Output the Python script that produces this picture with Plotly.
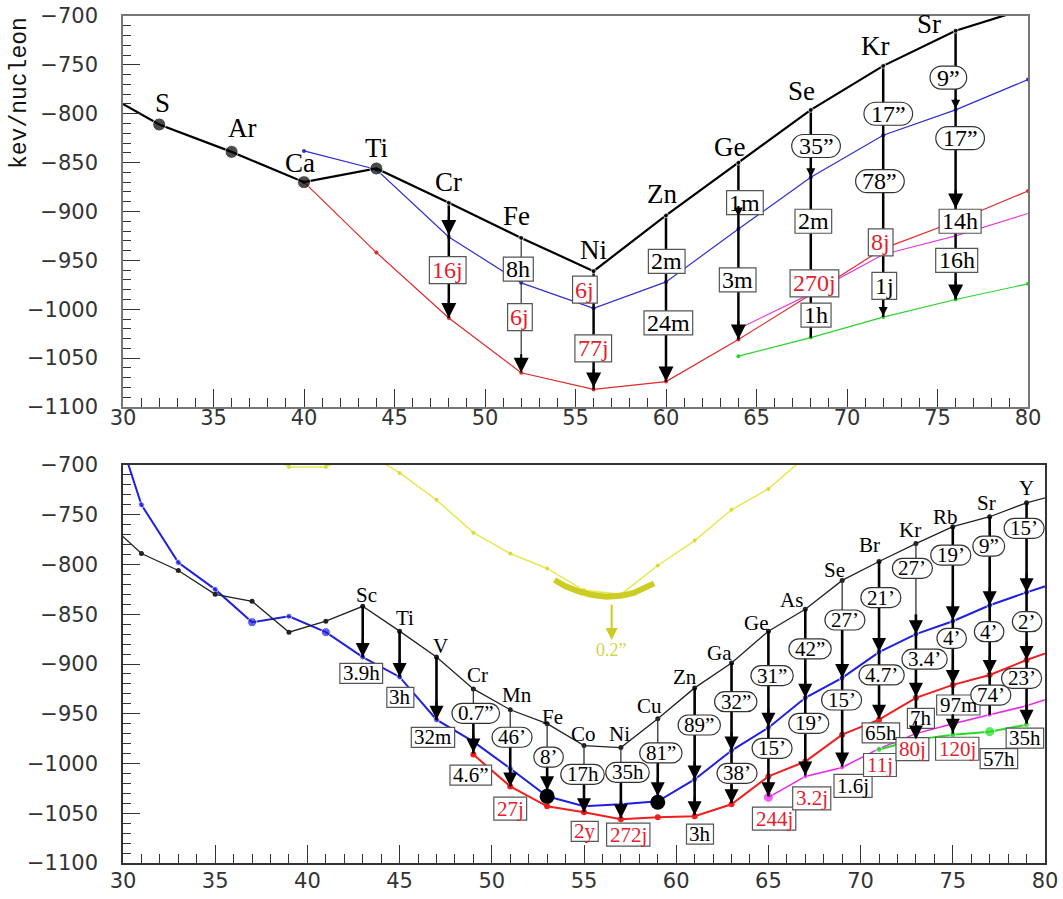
import plotly.graph_objects as go

# ---------------- TOP PANEL DATA ----------------
TOP_BLACK_X = [28, 32, 36, 40, 44, 48, 52, 56, 60, 64, 68, 72, 76, 80]
TOP_BLACK_Y = [-769, -811, -839, -870, -856, -891, -927, -961, -904, -850, -796, -751, -715, -692]
TOP_BIG_X = [32, 36, 40, 44]
TOP_BLUE_X = [40, 44, 48, 52, 56, 60, 64, 68, 72, 76, 80]
TOP_BLUE_Y = [-838, -857, -926, -973, -999, -972, -918, -865, -822, -796, -765]
TOP_RED_X = [40, 44, 48, 52, 56, 60, 64, 68, 72, 76, 80]
TOP_RED_Y = [-870, -942, -1009, -1065, -1082, -1074, -1031, -985, -938, -910, -879]
TOP_MAG_X = [64, 68, 72, 76, 80]
TOP_MAG_Y = [-1020, -984, -944, -925, -902]
TOP_GREEN_X = [64, 68, 72, 76, 80]
TOP_GREEN_Y = [-1048, -1029, -1008, -990, -974]

TOP_ELEMENTS = ["S", "Ar", "Ca", "Ti", "Cr", "Fe", "Ni", "Zn", "Ge", "Se", "Kr", "Sr"]
TOP_ELEM_X = [32.2, 36.6, 39.8, 44.0, 48.0, 51.75, 56.0, 59.8, 63.5, 67.5, 71.55, 74.55]
TOP_ELEM_Y = [-789, -815, -850, -835, -870, -905, -939, -882, -834, -777, -731, -708]

TOP_CHAIN_X = [48, 52, 56, 60, 64, 68, 72, 76]
TOP_CHAIN_TOP = [-891, -927, -961, -904, -850, -796, -751, -715]
TOP_CHAIN_END = [-1009, -1065, -1082, -1074, -1031, -1029, -1008, -990]
TOP_CHAIN_THIN_X = [52]

TOP_HEAD_X = [48, 48, 52, 56, 60, 64, 64, 68, 72, 76, 76, 76]
TOP_HEAD_Y = [-924, -1009, -1065, -1080, -1074, -905, -1031, -865, -1007, -795, -897, -990]
TOP_HEAD_BIG = [True, True, True, True, True, False, True, False, False, False, True, True]

TOP_LAB_TEXT = ["16j", "8h", "6j", "6j", "77j", "2m", "24m", "1m", "3m", "35”", "2m", "270j", "1h",
                "17”", "78”", "8j", "1j", "9”", "17”", "14h", "16h"]
TOP_LAB_X = [47.94, 51.84, 51.93, 55.52, 55.98, 60.04, 60.13, 64.36, 63.96, 68.29, 68.14, 68.2, 68.29,
             72.28, 71.82, 71.86, 72.06, 75.6, 76.25, 76.25, 76.06]
TOP_LAB_Y = [-960, -959, -1008, -980, -1040, -951, -1014, -891, -970, -833, -910, -973.5, -1006,
             -800, -869, -931.5, -976, -763, -825, -910, -950]
TOP_LAB_KIND = ["box", "box", "box", "box", "box", "box", "box", "box", "box", "round", "box", "box", "box",
                "round", "round", "box", "box", "round", "round", "box", "box"]
TOP_LAB_RED = [True, False, True, True, True, False, False, False, False, False, False, True, False,
               False, False, True, False, False, False, False, False]

# ---------------- BOTTOM PANEL DATA ----------------
BOT_X = [29, 31, 33, 35, 37, 39, 41, 43, 45, 47, 49, 51, 53, 55, 57, 59, 61, 63, 65, 67, 69, 71, 73, 75, 77, 79, 81]
BOT_BLACK_Y = [-755, -789, -806, -830, -837, -868, -857, -842, -867, -893, -925, -946, -960, -982, -984, -955,
               -924, -899, -867, -845, -816, -797, -779, -762, -752, -738, -728]
BOT_BLUE_Y = [-626, -740, -798, -825, -858, -852, -868, -893, -913, -956, -978, -1005, -1033, -1043, -1041, -1038,
              -1016, -987, -964, -934, -914, -888, -870, -857, -841, -828, -816]
BOT_BLUE_BIG_X = [37, 41]
BOT_RED_X = [49, 51, 53, 55, 57, 59, 61, 63, 65, 67, 69, 71, 73, 75, 77, 79, 81]
BOT_RED_Y = [-991, -1023, -1043, -1049, -1056, -1054, -1053, -1041, -1013, -998, -971, -956, -934, -921, -911, -896, -883]
BOT_MAG_X = [65, 67, 69, 71, 73, 75, 77, 79, 81]
BOT_MAG_Y = [-1034, -1013, -1004, -985, -970, -960, -951, -942, -930]
BOT_MAG_BIG_X = [65]
BOT_GREEN_X = [71, 73, 75, 77, 79]
BOT_GREEN_Y = [-986, -976, -971, -968, -961]
BOT_GREEN_BIG_X = [77]
BOT_YEL_X = [37, 39, 41, 43, 45, 47, 49, 51, 53, 55, 57, 59, 61, 63, 65, 67]
BOT_YEL_Y = [-680, -702, -702, -685, -708, -735, -768, -789, -804, -826, -830, -801, -776, -745, -724, -692]
ARC_X = [53.4, 54.0, 54.7, 55.4, 56.2, 57.0, 57.7, 58.3, 58.8]
ARC_Y = [-815.6, -822, -827, -830.5, -832.4, -831.5, -828.5, -824, -819]
YEL_ARROW_X = 56.5
YEL_ARROW_FROM = -839
YEL_ARROW_TO = -876
YEL_TEXT = "0.2”"
YEL_TEXT_Y = -886
BOT_BIG_X = [53, 59]
BOT_BIG_Y = [-1033, -1039]

BOT_ELEMENTS = ["Sc", "Ti", "V", "Cr", "Mn", "Fe", "Co", "Ni", "Cu", "Zn", "Ga", "Ge", "As", "Se", "Br", "Kr",
                "Rb", "Sr", "Y"]
BOT_ELEM_X = [43.2, 45.3, 47.2, 49.2, 51.35, 53.3, 54.96, 56.95, 58.54, 60.48, 62.37, 64.33, 66.26, 68.6, 70.5,
              72.7, 74.58, 76.84, 79.0]
BOT_ELEM_Y = [-831, -854, -882, -911, -931, -953, -970, -970, -942, -913, -889, -859, -836, -806, -780, -765,
              -752, -738, -723]

BOT_CHAIN_X = [43, 45, 47, 49, 51, 53, 55, 57, 59, 61, 63, 65, 67, 69, 71, 73, 75, 77, 79]
BOT_CHAIN_TOP = [-842, -867, -893, -925, -946, -960, -982, -984, -955, -924, -899, -867, -845, -816, -797, -779,
                 -762, -752, -738]
BOT_CHAIN_SPLIT = [-842, -867, -893, -949, -973, -991, -1011, -1009, -989, -924, -899, -867, -845, -856, -797, -850,
                   -762, -752, -738]
BOT_CHAIN_END = [-893, -913, -956, -990, -1023, -1030, -1049, -1055, -1037, -1052, -1040, -1033, -1012, -1003, -955,
                 -976, -970, -951, -960]

BOT_HEAD_X = [43, 45, 47, 49, 51, 53, 55, 57, 59, 61, 61, 63, 63, 65, 65, 67, 67, 69, 69, 71, 71, 73, 73, 73,
              75, 75, 75, 77, 77, 79, 79, 79]
BOT_HEAD_Y = [-893, -913, -956, -989, -1023, -1027, -1049, -1055, -1033, -1016, -1052, -987, -1040, -963, -1033,
              -934, -1012, -914, -1003, -888, -955, -870, -933, -976, -856, -920, -969, -841, -910, -828, -896, -960]

BOT_LAB_TEXT = ["3.9h", "3h", "32m", "0.7”", "4.6”", "46’", "27j", "8’", "17h", "2y", "35h", "272j", "81”",
                "89”", "3h", "32”", "38’", "31”", "15’", "244j", "42”", "19’", "3.2j", "27’", "15’", "1.6j",
                "21’", "4.7’", "65h", "11j", "27’", "3.4’", "7h", "80j", "19’", "4’", "97m", "120j",
                "9”", "4’", "74’", "57h", "15’", "2’", "23’", "35h"]
BOT_LAB_X = [42.92, 45.04, 46.81, 49.13, 48.86, 51.1, 51.0, 53.08, 54.92, 55.04, 57.36, 57.4, 59.17,
             61.25, 61.29, 63.23, 63.3, 65.2, 65.2, 65.31, 67.26, 67.19, 67.35, 69.15, 68.97, 69.59,
             71.1, 71.14, 71.1, 71.05, 72.81, 73.47, 73.27, 72.81, 74.89, 74.94, 75.3, 75.24,
             76.95, 76.97, 77.06, 77.5, 78.87, 79.03, 78.73, 78.91]
BOT_LAB_Y = [-909.4, -933.5, -973.7, -949.6, -1011.6, -973.6, -1045.4, -993.5, -1011, -1068.2, -1009, -1071.5,
             -989.4, -961.3, -1071, -937.9, -1009.9, -911.6, -984.7, -1055.5, -884.7, -959.6, -1035, -855.8,
             -936.2, -1022.4, -833.2, -911, -969.2, -1001.5, -803.8, -895.2, -954.6, -985.6, -790.5, -874.2,
             -941.2, -985.2, -781.6, -867.5, -931.2, -995.2, -763.6, -857.5, -914.4, -974.4]
BOT_LAB_KIND = ["box", "box", "box", "round", "box", "round", "box", "round", "round", "box", "round", "box",
                "round", "round", "box", "round", "round", "round", "round", "box", "round", "round", "box",
                "round", "round", "box", "round", "round", "box", "box", "round", "round", "box", "box",
                "round", "round", "box", "box", "round", "round", "round", "box", "round", "round", "round", "box"]
BOT_LAB_RED = ["j" in t or t == "2y" for t in BOT_LAB_TEXT]
BOT_LAB_RED[BOT_LAB_TEXT.index("1.6j")] = False

# ---------------- STYLE ----------------
RED_TXT = "#e4202c"
SERIF = "Liberation Serif"
CHAR_W = {".": 0.25, "h": 0.5, "m": 0.778, "j": 0.278, "y": 0.5, "”": 0.444, "’": 0.333}


def text_w(t, size):
    return sum(CHAR_W.get(c, 0.5) for c in t) * size


def stadium(w, h):
    r = h / 2.0
    k = 0.5523 * r
    a = max(w / 2.0 - r, 0)
    return (f"M {-a},{r} L {a},{r} C {a + k},{r} {a + r},{k} {a + r},0 "
            f"C {a + r},{-k} {a + k},{-r} {a},{-r} L {-a},{-r} "
            f"C {-a - k},{-r} {-a - r},{-k} {-a - r},0 C {-a - r},{k} {-a - k},{r} {-a},{r} Z")


fig = go.Figure()
shapes = []
annotations = []


def line_trace(x, y, color, width, xa, ya, msize=0, mcolor=None, sizes=None):
    mode = "lines+markers" if (msize or sizes) else "lines"
    fig.add_trace(go.Scatter(
        x=x, y=y, mode=mode, xaxis=xa, yaxis=ya, hoverinfo="skip",
        line=dict(color=color, width=width),
        marker=dict(size=sizes if sizes else msize, color=mcolor or color)))


def chains(xs, tops, splits, ends, xa, ya, thin_w, thick_w):
    tx, ty, kx, ky = [], [], [], []
    for x, t, s, e in zip(xs, tops, splits, ends):
        if s != t:
            tx += [x, x, None]
            ty += [t, s, None]
        if s != e:
            kx += [x, x, None]
            ky += [s, e, None]
    if tx:
        fig.add_trace(go.Scatter(x=tx, y=ty, mode="lines", xaxis=xa, yaxis=ya, hoverinfo="skip",
                                 line=dict(color="#333", width=thin_w)))
    fig.add_trace(go.Scatter(x=kx, y=ky, mode="lines", xaxis=xa, yaxis=ya, hoverinfo="skip",
                             line=dict(color="black", width=thick_w)))


def heads(xs, ys, bigs, xr, yr, big_size, small_size):
    for x, y, b in zip(xs, ys, bigs):
        annotations.append(dict(
            x=x, y=y, xref=xr, yref=yr, text="", showarrow=True, ax=0, ay=-(20 if b else 12),
            axref="pixel", ayref="pixel", arrowhead=2, arrowwidth=2,
            arrowsize=big_size if b else small_size, arrowcolor="black", standoff=0))


def labels(texts, xs, ys, kinds, reds, xr, yr, size, box_h, round_h, pad_box, pad_round):
    for t, x, y, k, red in zip(texts, xs, ys, kinds, reds):
        tw = text_w(t, size)
        if k == "box":
            w = tw + pad_box
            h = box_h + (3 if "j" in t else 0)
            shapes.append(dict(type="rect", xref=xr, yref=yr, xsizemode="pixel", ysizemode="pixel",
                               xanchor=x, yanchor=y, x0=-w / 2, x1=w / 2, y0=-h / 2, y1=h / 2,
                               line=dict(color="#555", width=1.2), fillcolor="white", layer="above"))
        else:
            w = tw + pad_round
            shapes.append(dict(type="path", xref=xr, yref=yr, xsizemode="pixel", ysizemode="pixel",
                               xanchor=x, yanchor=y, path=stadium(w, round_h),
                               line=dict(color="#333", width=1.2), fillcolor="white", layer="above"))
        annotations.append(dict(x=x, y=y, xref=xr, yref=yr, text=t, showarrow=False,
                                xanchor="center", yanchor="middle",
                                font=dict(family=SERIF, size=size, color=RED_TXT if red else "black")))


def elements(names, xs, ys, xr, yr, size):
    for n, x, y in zip(names, xs, ys):
        annotations.append(dict(x=x, y=y, xref=xr, yref=yr, text=n, showarrow=False,
                                xanchor="center", yanchor="middle",
                                font=dict(family=SERIF, size=size, color="black")))


# ---------- top panel traces ----------
line_trace(TOP_BLUE_X, TOP_BLUE_Y, "#2f2fd0", 1.2, "x", "y", msize=4)
line_trace(TOP_RED_X, TOP_RED_Y, "#e02a2a", 1.2, "x", "y", msize=4)
line_trace(TOP_MAG_X, TOP_MAG_Y, "#e040e0", 1.2, "x", "y")
line_trace(TOP_GREEN_X, TOP_GREEN_Y, "#2ed02e", 1.2, "x", "y", msize=4)
chains(TOP_CHAIN_X, TOP_CHAIN_TOP,
       [e if x in TOP_CHAIN_THIN_X else t for x, t, e in zip(TOP_CHAIN_X, TOP_CHAIN_TOP, TOP_CHAIN_END)],
       TOP_CHAIN_END, "x", "y", 1.2, 2.5)
line_trace(TOP_BLACK_X, TOP_BLACK_Y, "black", 2.2, "x", "y",
           sizes=[13 if x in TOP_BIG_X else 5 for x in TOP_BLACK_X], mcolor="black")
heads(TOP_HEAD_X, TOP_HEAD_Y, TOP_HEAD_BIG, "x", "y", 1.5, 0.9)
labels(TOP_LAB_TEXT, TOP_LAB_X, TOP_LAB_Y, TOP_LAB_KIND, TOP_LAB_RED, "x", "y",
       24, 24, 23, 6, 14)
elements(TOP_ELEMENTS, TOP_ELEM_X, TOP_ELEM_Y, "x", "y", 27)

# ---------- bottom panel traces ----------
line_trace(BOT_YEL_X, BOT_YEL_Y, "#e8e850", 1.5, "x2", "y2", msize=4, mcolor="#dada3a")
line_trace(ARC_X, ARC_Y, "#cccc22", 6, "x2", "y2")
line_trace(BOT_X, BOT_BLUE_Y, "#1f1fe0", 2, "x2", "y2",
           sizes=[9 if x in BOT_BLUE_BIG_X else 6 for x in BOT_X])
line_trace(BOT_RED_X, BOT_RED_Y, "#f01e1e", 2, "x2", "y2", msize=6)
line_trace(BOT_MAG_X, BOT_MAG_Y, "#ee22ee", 1.5, "x2", "y2",
           sizes=[10 if x in BOT_MAG_BIG_X else 5 for x in BOT_MAG_X])
line_trace(BOT_GREEN_X, BOT_GREEN_Y, "#22dd22", 2, "x2", "y2",
           sizes=[10 if x in BOT_GREEN_BIG_X else 6 for x in BOT_GREEN_X])
line_trace(BOT_X, BOT_BLACK_Y, "#222", 1.3, "x2", "y2", msize=5)
chains(BOT_CHAIN_X, BOT_CHAIN_TOP, BOT_CHAIN_SPLIT, BOT_CHAIN_END, "x2", "y2", 1.3, 2.6)
fig.add_trace(go.Scatter(x=BOT_BIG_X, y=BOT_BIG_Y, mode="markers", xaxis="x2", yaxis="y2", hoverinfo="skip",
                         marker=dict(size=15, color="black")))
heads(BOT_HEAD_X, BOT_HEAD_Y, [True] * len(BOT_HEAD_X), "x2", "y2", 1.4, 1.0)
labels(BOT_LAB_TEXT, BOT_LAB_X, BOT_LAB_Y, BOT_LAB_KIND, BOT_LAB_RED, "x2", "y2",
       21, 20, 20, 6, 12)
elements(BOT_ELEMENTS, BOT_ELEM_X, BOT_ELEM_Y, "x2", "y2", 21)

annotations.append(dict(x=YEL_ARROW_X, y=YEL_ARROW_TO, xref="x2", yref="y2", ax=YEL_ARROW_X, ay=YEL_ARROW_FROM,
                        axref="x2", ayref="y2", text="", showarrow=True, arrowhead=2, arrowwidth=2,
                        arrowsize=1.2, arrowcolor="#cccc22", standoff=0))
annotations.append(dict(x=YEL_ARROW_X, y=YEL_TEXT_Y, xref="x2", yref="y2", text=YEL_TEXT, showarrow=False,
                        font=dict(family=SERIF, size=18, color="#d4d44a")))

W, H = 1063, 899
ML, MR, MT, MB = 123, 18, 16, 36
PW, PH = W - ML - MR, H - MT - MB
top_dom = [(H - MB - 407) / PH, 1.0]
bot_dom = [0.0, (H - MB - 465) / PH]

# axis title (centred at page x=20, y=93)
annotations.append(dict(x=(20 - ML) / PW, y=(H - MB - 93) / PH, xref="paper", yref="paper",
                        xanchor="center", yanchor="middle", text="kev/nucleon", showarrow=False,
                        textangle=-90, font=dict(family="Liberation Mono", size=23, color="#111")))

tickfont = dict(family="DejaVu Sans", size=21, color="#333")


def xax(domain, anchor, standoff, frame):
    return dict(domain=domain, anchor=anchor, range=[30, 80], tick0=30, dtick=5, ticks="inside",
                ticklen=18, tickwidth=1, tickcolor="#333",
                minor=dict(dtick=1, tick0=30, ticks="inside", ticklen=9, tickwidth=1, tickcolor="#333"),
                showline=True, linecolor=frame, linewidth=1.5, mirror=True, showgrid=False, zeroline=False,
                tickfont=tickfont, ticklabelstandoff=standoff, ticklabeloverflow="allow",
                fixedrange=True, automargin=False)


def yax(domain, anchor, frame):
    return dict(domain=domain, anchor=anchor, range=[-1100, -700], tick0=-1100, dtick=50, ticks="inside",
                ticklen=17, tickwidth=1, tickcolor="#333",
                minor=dict(dtick=10, tick0=-1100, ticks="inside", ticklen=8, tickwidth=1, tickcolor="#333"),
                showline=True, linecolor=frame, linewidth=1.5, mirror=True, showgrid=False, zeroline=False,
                tickfont=tickfont, ticklabelstandoff=19, ticklabeloverflow="allow",
                fixedrange=True, automargin=False)


fig.update_layout(
    width=W, height=H, margin=dict(l=ML, r=MR, t=MT, b=MB, autoexpand=False),
    paper_bgcolor="white", plot_bgcolor="white", showlegend=False,
    xaxis=xax([0, (1028 - ML) / PW], "y", -9, "#777"),
    yaxis=yax(top_dom, "x", "#777"),
    xaxis2=xax([0, 1], "y2", -2, "#333"),
    yaxis2=yax(bot_dom, "x2", "#333"),
    shapes=shapes, annotations=annotations,
)

# remove the default 8 px page margin so the figure sits at the window's top-left corner
fig.write_html("out.html", config={"displayModeBar": False},
               post_script="document.body.style.margin='0px';")
